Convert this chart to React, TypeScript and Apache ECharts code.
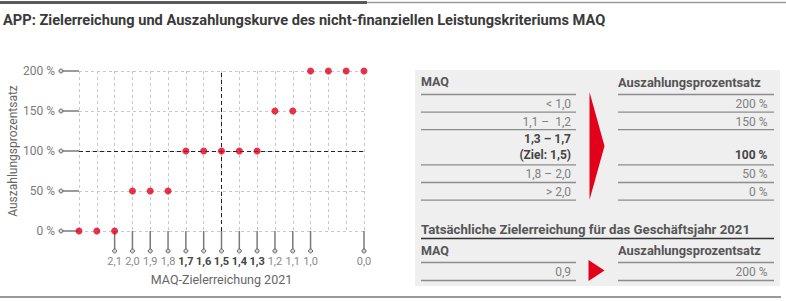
import React, { useEffect, useRef } from "react";
import * as echarts from "echarts";

const TITLE = "APP: Zielerreichung und Auszahlungskurve des nicht-finanziellen Leistungskriteriums MAQ";
const X_TITLE = "MAQ-Zielerreichung 2021";
const Y_TITLE = "Auszahlungsprozentsatz";

// x positions (evenly spaced) and their tick labels
const xTickLabels = ["", "", "2,1", "2,0", "1,9", "1,8", "1,7", "1,6", "1,5", "1,4", "1,3", "1,2", "1,1", "1,0", "", "", "0,0"];
const boldTickLabels = ["1,7", "1,6", "1,5", "1,4", "1,3"];
// payout percentage at each x position
const payoutValues = [0, 0, 0, 50, 50, 50, 100, 100, 100, 100, 100, 150, 150, 200, 200, 200, 200];
const yTicks = [0, 50, 100, 150, 200];
const targetIndex = 8; // "1,5"
const targetPayout = 100;

// table
const tableHeaderLeft = "MAQ";
const tableHeaderRight = "Auszahlungsprozentsatz";
const maqRanges = ["< 1,0", "1,1 –  1,2", "1,3 – 1,7\n(Ziel: 1,5)", "1,8 – 2,0", "> 2,0"];
const payoutRanges = ["200 %", "150 %", "100 %", "50 %", "0 %"];
const rowSpans = [1, 1, 2, 1, 1];
const boldRow = 2;
const actualTitle = "Tatsächliche Zielerreichung für das Geschäftsjahr 2021";
const actualMaq = "0,9";
const actualPayout = "200 %";

const FONT = "Roboto, 'Liberation Sans', sans-serif";
const RED = "#e2001a";

function measure(text: string, font: string) {
  const c = document.createElement("canvas").getContext("2d");
  if (!c) return text.length * 7;
  c.font = font;
  return c.measureText(text).width;
}

function buildGraphic() {
  const g: any[] = [];
  // page rules
  g.push({ type: "line", shape: { x1: 0, y1: 2.5, x2: 367, y2: 2.5 }, style: { stroke: "#5a5a5a", lineWidth: 3 } });
  g.push({ type: "line", shape: { x1: 367, y1: 2.5, x2: 786, y2: 2.5 }, style: { stroke: "#9a9a9a", lineWidth: 1.5 } });
  g.push({ type: "line", shape: { x1: 0, y1: 297, x2: 781, y2: 297 }, style: { stroke: "#9a9a9a", lineWidth: 2 } });

  // title
  const tFont = `bold 15px ${FONT}`;
  const tw = measure(TITLE, tFont);
  g.push({
    type: "text", x: 3, y: 19.5, scaleX: 603 / tw,
    style: { text: TITLE, fontSize: 15, fontWeight: "bold", fontFamily: FONT, fill: "#3a3a3a", verticalAlign: "middle" },
  });

  // panel
  g.push({ type: "rect", shape: { x: 415, y: 70, width: 365, height: 216 }, style: { fill: "#efefef" }, z: -1 });

  const LL = 421, LR = 576, RL = 618, RR = 774, LTX = 571, RTX = 767.5;
  const head = (t: string, x: number, y: number, targetW?: number) => {
    const w = measure(t, `bold 12px ${FONT}`);
    return {
      type: "text", x, y, scaleX: targetW ? targetW / w : 1.06,
      style: { text: t, fontSize: 12, fontWeight: "bold", fontFamily: FONT, fill: "#555", verticalAlign: "middle" },
    };
  };
  const val = (t: string, x: number, y: number, bold: boolean) => ({
    type: "text", x, y,
    style: {
      text: t, fontSize: 12, fontWeight: bold ? "bold" : "normal", fontFamily: FONT,
      fill: bold ? "#444" : "#808080", align: "right", verticalAlign: "middle",
    },
  });
  const rule = (x1: number, x2: number, y: number, stroke = "#8c8c8c", w = 1.3) => ({
    type: "line", shape: { x1, y1: y, x2, y2: y }, style: { stroke, lineWidth: w },
  });

  g.push(head(tableHeaderLeft, LL, 82.5, 28));
  g.push(head(tableHeaderRight, RL, 82.5, 143));
  const rowH = 17.6;
  let y = 94.5;
  g.push(rule(LL, LR, y));
  g.push(rule(RL, RR, y));
  maqRanges.forEach((txt, i) => {
    const lines = txt.split("\n");
    const bold = i === boldRow;
    lines.forEach((ln, k) => g.push(val(ln, LTX, y + 9.5 + k * 16, bold)));
    g.push(val(payoutRanges[i], RTX, y + 9.5 + (lines.length - 1) * 16, bold));
    y += rowSpans[i] * rowH;
    g.push(rule(LL, LR, y));
    g.push(rule(RL, RR, y));
  });
  // big arrow
  g.push({ type: "polygon", shape: { points: [[589.5, 92], [604.5, 146], [589.5, 200]] }, style: { fill: RED } });

  // actual section
  g.push(head(actualTitle, LL, 229.5, 329));
  g.push(rule(LL, RR, 238.5, "#333", 1.5));
  g.push(head(tableHeaderLeft, LL, 251, 28));
  g.push(head(tableHeaderRight, RL, 251, 143));
  g.push(rule(LL, LR, 262.5));
  g.push(rule(RL, RR, 262.5));
  g.push(val(actualMaq, LTX, 271.5, false));
  g.push(val(actualPayout, RTX, 271.5, false));
  g.push(rule(LL, LR, 280.5));
  g.push(rule(RL, RR, 280.5));
  g.push({ type: "polygon", shape: { points: [[588.5, 260], [604.5, 270.5], [588.5, 281]] }, style: { fill: RED } });
  return g;
}

export default function App() {
  const ref = useRef<HTMLDivElement>(null);
  useEffect(() => {
    if (!ref.current) return;
    const chart = echarts.init(ref.current, undefined, { renderer: "svg" });
    const stemStyle = { stroke: "#7a7a7a", lineWidth: 1.5 };
    const dotStyle = { fill: "#d8d8d8", stroke: "#666", lineWidth: 1 };
    const option: any = {
      animation: false,
      backgroundColor: "#fff",
      textStyle: { fontFamily: FONT },
      grid: { left: 79, right: 422, top: 71, bottom: 70 },
      xAxis: {
        type: "value", min: 0, max: xTickLabels.length - 1, interval: 1,
        axisLine: { show: false }, axisTick: { show: false },
        splitLine: { show: true, lineStyle: { color: "#c8c8c8", type: [3, 3], width: 1 } },
        axisLabel: {
          margin: 25, fontSize: 11, color: "#888", fontFamily: FONT,
          formatter: (v: number) => {
            const l = xTickLabels[Math.round(v)] || "";
            if (!l) return "";
            return boldTickLabels.includes(l) ? `{b|${l}}` : `{n|${l}}`;
          },
          rich: {
            b: { fontSize: 11, fontWeight: "bold", color: "#444", fontFamily: FONT },
            n: { fontSize: 11, color: "#8a8a8a", fontFamily: FONT },
          },
        },
        name: X_TITLE, nameLocation: "middle", nameGap: 42,
        nameTextStyle: { fontSize: 12.5, color: "#666", fontFamily: FONT },
      },
      yAxis: {
        type: "value", min: 0, max: 200, interval: 50,
        axisLine: { show: false }, axisTick: { show: false },
        splitLine: { show: true, lineStyle: { color: "#c8c8c8", type: [3, 3], width: 1 } },
        axisLabel: { margin: 24, fontSize: 12, color: "#7a7a7a", fontFamily: FONT, formatter: (v: number) => `${v} %` },
        name: Y_TITLE, nameLocation: "middle", nameRotate: 90, nameGap: 60,
        nameTextStyle: { fontSize: 12, color: "#666", fontFamily: FONT },
      },
      series: [
        {
          type: "custom", clip: false, z: 3, silent: true,
          data: xTickLabels.map((l, i) => [i, 0, l]).filter((d) => d[2] !== "").map((d) => [d[0], d[1]]),
          renderItem: (params: any, api: any) => {
            const p = api.coord([api.value(0), api.value(1)]);
            return {
              type: "group",
              children: [
                { type: "line", shape: { x1: p[0], y1: p[1], x2: p[0], y2: p[1] + 20 }, style: stemStyle },
                { type: "circle", shape: { cx: p[0], cy: p[1] + 20, r: 2 }, style: dotStyle },
              ],
            };
          },
        },
        {
          type: "custom", clip: false, z: 3, silent: true,
          data: yTicks.map((v) => [0, v]),
          renderItem: (params: any, api: any) => {
            const p = api.coord([api.value(0), api.value(1)]);
            return {
              type: "group",
              children: [
                { type: "line", shape: { x1: p[0] - 18, y1: p[1], x2: p[0], y2: p[1] }, style: stemStyle },
                { type: "circle", shape: { cx: p[0] - 18, cy: p[1], r: 2 }, style: dotStyle },
              ],
            };
          },
        },
        {
          type: "scatter", z: 5, symbolSize: 7,
          itemStyle: { color: RED },
          data: payoutValues.map((v, i) => [i, v]),
          markLine: {
            silent: true, symbol: "none", label: { show: false },
            lineStyle: { color: "#222", type: [4, 3], width: 1 },
            data: [{ xAxis: targetIndex }, { yAxis: targetPayout }],
          },
        },
      ],
      graphic: buildGraphic(),
    };
    chart.setOption(option);
    return () => chart.dispose();
  }, []);
  return (
    <div
      ref={ref}
      style={{ position: "fixed", left: 0, top: 0, width: 786, height: 301, background: "#fff" }}
    />
  );
}
